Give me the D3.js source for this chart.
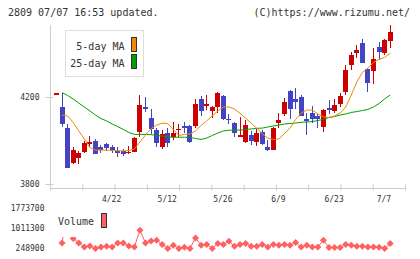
<!DOCTYPE html>
<html>
<head>
<meta charset="utf-8">
<script src="https://cdn.jsdelivr.net/npm/d3@7"></script>
<style>
body { margin: 0; background: #fff; }
svg { display: block; }
text { font-family: "DejaVu Sans Mono", monospace; fill: #333; }
</style>
</head>
<body>
<div id="chart"></div>
<script>
// trading days shown (2022)
var dates = ["4/8","4/11","4/12","4/13","4/14","4/15","4/18","4/19","4/20","4/21",
    "4/22","4/25","4/26","4/27","4/28","5/2","5/6","5/9","5/10","5/11",
    "5/12","5/13","5/16","5/17","5/18","5/19","5/20","5/23","5/24","5/25",
    "5/26","5/27","5/30","5/31","6/1","6/2","6/3","6/6","6/7","6/8",
    "6/9","6/10","6/13","6/14","6/15","6/16","6/17","6/20","6/21","6/22",
    "6/23","6/24","6/27","6/28","6/29","6/30","7/1","7/4","7/5","7/6","7/7"];

var opens  = [4217,4153,4056,3898,3918,3948,3985,3998,3969,3982,
    3969,3953,3950,3944,3948,4040,4153,4102,4048,3970,
    4036,4017,4048,4068,4068,4068,4191,4160,4136,4155,
    4205,4100,4080,4017,3994,4025,3993,4040,3969,3956,
    4082,4122,4228,4191,4200,4099,4126,4113,4063,4148,
    4136,4168,4224,4347,4404,4450,4329,4321,4430,4404,4459];
var highs  = [4217,4220,4074,3970,3952,3999,4021,4005,3979,3987,
    3979,3969,3959,3975,4017,4209,4201,4143,4056,4048,
    4056,4086,4076,4086,4071,4191,4205,4209,4159,4224,
    4211,4122,4086,4109,4094,4045,4051,4048,4002,4061,
    4128,4197,4232,4243,4209,4126,4160,4120,4145,4186,
    4191,4217,4347,4408,4439,4467,4335,4427,4452,4467,4531];
var lows   = [4217,4063,3873,3894,3892,3944,3971,3936,3944,3953,
    3941,3925,3929,3938,3946,4017,4132,4030,3969,3961,
    3969,4002,4015,4036,3987,4059,4114,4140,4102,4125,
    4094,4076,4017,4015,3990,3979,3975,3979,3953,3956,
    4056,4113,4100,4145,4112,4025,4079,4059,4040,4120,
    4125,4155,4209,4324,4381,4358,4224,4260,4370,4393,4427];
var closes = [4217,4074,3875,3956,3944,3988,3994,3938,3956,3964,
    3956,3944,3938,3948,4010,4163,4146,4051,3990,4030,
    3990,4036,4054,4059,3993,4168,4137,4169,4154,4220,
    4099,4094,4036,4025,4071,3999,4036,3982,3956,4057,
    4094,4176,4145,4178,4114,4091,4097,4097,4140,4140,
    4163,4205,4324,4393,4416,4358,4266,4375,4408,4462,4500];

var ma5  = [null,4117,4113,4083,4044,4007,3968,3956,3956,3956,
    3954,3953,3952,3954,3961,3993,4025,4055,4071,4080,
    4078,4051,4023,4028,4030,4044,4069,4090,4113,4136,
    4154,4154,4145,4125,4103,4080,4057,4030,4011,4005,
    4007,4032,4057,4097,4126,4140,4140,4122,4108,4106,
    4113,4126,4154,4209,4269,4313,4333,4359,4373,4382,4401];
var ma25 = [null,4220,4207,4191,4172,4154,4136,4117,4101,4090,
    4076,4064,4051,4037,4028,4028,4028,4027,4023,4021,
    4016,4015,4015,4015,4015,4009,4005,4011,4023,4034,
    4044,4047,4048,4048,4051,4053,4056,4057,4062,4067,
    4071,4076,4078,4080,4084,4085,4087,4092,4097,4106,
    4110,4117,4122,4129,4133,4138,4143,4154,4170,4191,4209];

var volumes = [null,462000,1773700,630000,462000,310000,348000,248900,310000,337000,
    310000,462000,462000,348000,310000,946000,462000,539000,565000,401000,
    248900,375000,248900,298000,248900,653000,375000,401000,248900,440000,
    401000,527000,337000,401000,440000,337000,337000,401000,310000,401000,
    375000,401000,375000,477000,310000,375000,310000,310000,565000,287000,
    287000,287000,401000,375000,337000,337000,310000,310000,298000,248900,440000];

var dateLabels = ["4/22","5/12","5/26","6/9","6/23","7/7"];
var priceTicks = [4200, 3800];
var volumeTicks = [1773700, 1011300, 248900];

var upColor = "#cc0000", downColor = "#4343c3";
var ma5Color = "#f08a00", ma25Color = "#00a000", volColor = "#ff6060";
var axisColor = "#cccccc";

var W = 420, H = 259;
var svg = d3.select("#chart").append("svg")
    .attr("width", W)
    .attr("height", H);

var x = d3.scalePoint().domain(dates).range([56.5, 390.2]);
var y = d3.scaleLinear().domain([3800, 4200]).range([184, 97]);
var yv = d3.scaleLinear().domain([248900, 1773700]).range([248.5, 208.5]);
var gridX = d3.scaleLinear().domain([0, 11]).range([50, 405]);

// header texts
svg.append("text").attr("x", 8).attr("y", 16).style("font-size", "10px")
    .text("2809 07/07 16:53 updated.");
svg.append("text").attr("x", 410).attr("y", 16).attr("text-anchor", "end").style("font-size", "10px")
    .text("(C)https://www.rizumu.net/");

// left axis
var yAxis = svg.append("g")
    .attr("transform", "translate(50.5,0)")
    .call(d3.axisLeft(y).tickValues(priceTicks).tickSize(5).tickPadding(6).tickFormat(d3.format("d")));
yAxis.select(".domain").remove();
yAxis.selectAll(".tick line").attr("x1", 3).attr("x2", -5).attr("stroke", axisColor);
yAxis.selectAll(".tick text").style("font-size", "8px").style("font-family", "DejaVu Sans Mono").attr("fill", "#333").attr("x", -11);
svg.append("line").attr("x1", 50.5).attr("x2", 50.5).attr("y1", 25).attr("y2", 190)
    .attr("stroke", axisColor);

// bottom axis with evenly spaced grid ticks
var xAxis = svg.append("g")
    .attr("transform", "translate(0,188.5)")
    .call(d3.axisBottom(gridX).tickValues(d3.range(12)).tickFormat("").tickSize(2));
xAxis.select(".domain").attr("stroke", axisColor).attr("d", "M50,0H405");
xAxis.selectAll(".tick line").attr("y1", -4).attr("y2", 2).attr("stroke", axisColor);

// date labels
svg.selectAll(".dlab")
    .data(dateLabels)
    .enter().append("text")
    .attr("class", "dlab")
    .attr("x", function(d, i) { return i === dateLabels.length - 1 ? x(d) + 1 : x(d) - 0.5; })
    .attr("y", 201.5)
    .attr("text-anchor", function(d, i) { return i === dateLabels.length - 1 ? "end" : "middle"; })
    .style("font-size", "8px")
    .text(function(d) { return d; });

// candles
var candles = dates.map(function(d, i) {
    return {date: d, o: opens[i], h: highs[i], l: lows[i], c: closes[i]};
});
var cg = svg.append("g").attr("shape-rendering", "crispEdges");
cg.selectAll(".wick")
    .data(candles)
    .enter().append("line")
    .attr("class", "wick")
    .attr("x1", function(d) { return Math.floor(x(d.date)) + 0.5; })
    .attr("x2", function(d) { return Math.floor(x(d.date)) + 0.5; })
    .attr("y1", function(d) { return y(d.h); })
    .attr("y2", function(d) { return y(d.l); })
    .attr("stroke", function(d) { return d.c >= d.o ? upColor : downColor; });
cg.selectAll(".body")
    .data(candles)
    .enter().append("rect")
    .attr("class", "body")
    .attr("x", function(d) { return Math.floor(x(d.date)) - 2; })
    .attr("width", 5)
    .attr("y", function(d) { return y(Math.max(d.o, d.c)); })
    .attr("height", function(d) { return Math.max(1.2, Math.abs(y(d.o) - y(d.c))); })
    .attr("fill", function(d) { return d.c >= d.o ? upColor : downColor; });

// moving averages
var maLine = d3.line()
    .defined(function(d) { return d[1] != null; })
    .x(function(d) { return x(d[0]); })
    .y(function(d) { return y(d[1]); });
svg.append("path")
    .datum(dates.map(function(d, i) { return [d, ma25[i]]; }))
    .attr("d", maLine)
    .attr("fill", "none")
    .attr("stroke", ma25Color)
    .attr("stroke-width", 1);
svg.append("path")
    .datum(dates.map(function(d, i) { return [d, ma5[i]]; }))
    .attr("d", maLine)
    .attr("fill", "none")
    .attr("stroke", ma5Color)
    .attr("stroke-width", 1);

// price legend
var lg = svg.append("g");
lg.append("rect").attr("x", 65.5).attr("y", 30.5).attr("width", 78).attr("height", 46)
    .attr("fill", "#fff").attr("stroke", "#dddddd");
var maNames = ["5-day MA", "25-day MA"];
var maColors = [ma5Color, ma25Color];
lg.selectAll(".ltxt").data(maNames).enter().append("text")
    .attr("x", 124.5)
    .attr("y", function(d, i) { return 49.5 + i * 17; })
    .attr("text-anchor", "end")
    .style("font-size", "10px")
    .text(function(d) { return d; });
lg.selectAll(".lsw").data(maColors).enter().append("rect")
    .attr("x", 131.5)
    .attr("y", function(d, i) { return 37.5 + i * 17; })
    .attr("width", 5).attr("height", 14)
    .attr("fill", function(d) { return d; })
    .attr("stroke", "#333");

// volume
var vg = svg.append("g");
var volLine = d3.line()
    .defined(function(d) { return d[1] != null; })
    .x(function(d) { return x(d[0]); })
    .y(function(d) { return yv(d[1]); });
var volData = dates.map(function(d, i) { return [d, volumes[i]]; });
vg.append("path")
    .datum(volData)
    .attr("d", volLine)
    .attr("fill", "none")
    .attr("stroke", volColor)
    .attr("stroke-width", 1);
vg.selectAll(".vdot")
    .data(volData.filter(function(d) { return d[1] != null; }))
    .enter().append("path")
    .attr("class", "vdot")
    .attr("d", "M0,-3.5L3.5,0L0,3.5L-3.5,0Z")
    .attr("transform", function(d) { return "translate(" + x(d[0]) + "," + yv(d[1]) + ")"; })
    .attr("fill", volColor);

// volume axis labels
svg.selectAll(".vlab")
    .data(volumeTicks)
    .enter().append("text")
    .attr("class", "vlab")
    .attr("x", 44.5)
    .attr("y", function(d) { return yv(d); })
    .attr("dy", "0.35em")
    .attr("text-anchor", "end")
    .style("font-size", "8px")
    .text(function(d) { return d; });

// volume legend (white box covers the line behind it)
svg.append("rect").attr("x", 53).attr("y", 204).attr("width", 60).attr("height", 33)
    .attr("fill", "#fff");
svg.append("text").attr("x", 58).attr("y", 225).style("font-size", "10px").text("Volume");
svg.append("rect").attr("x", 101.5).attr("y", 213.5).attr("width", 5).attr("height", 14)
    .attr("fill", volColor).attr("stroke", "#333");
</script>
</body>
</html>
